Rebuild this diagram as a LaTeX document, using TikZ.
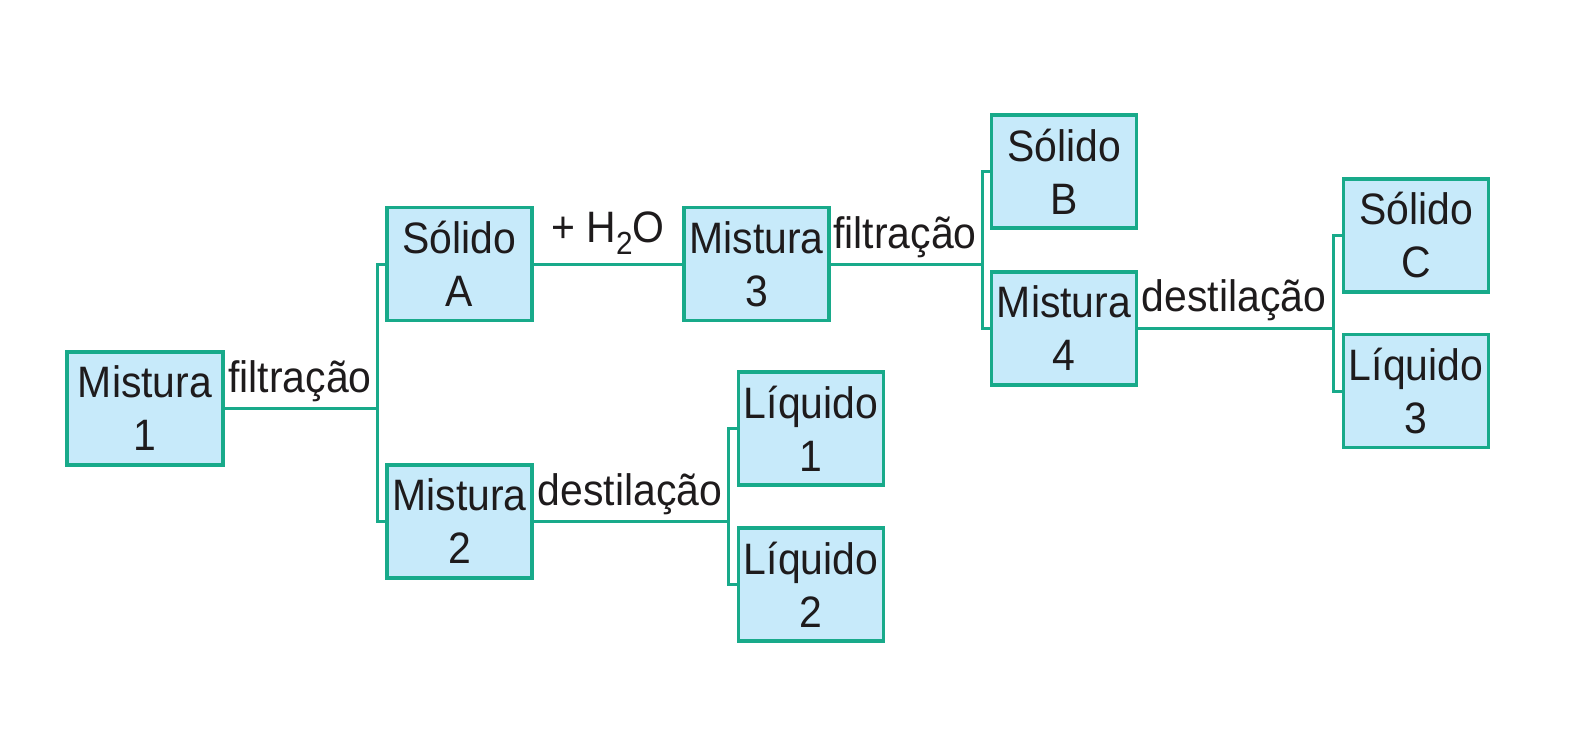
\documentclass[tikz,border=0pt]{standalone}
\usepackage{fontspec}
\setmainfont{Liberation Sans}[FakeStretch=0.93]
\definecolor{teal}{RGB}{24,170,138}
\definecolor{boxfill}{RGB}{199,234,250}
\definecolor{ink}{RGB}{30,27,28}
\newcommand{\lowsub}[1]{\raisebox{-0.28em}{\fontsize{16}{16}\selectfont #1}}
\begin{document}
\begin{tikzpicture}[x=0.5pt,y=-0.5pt,
  box/.style={draw=teal,fill=boxfill,line width=1.8pt,minimum width=72.5pt,minimum height=56.5pt,
    inner sep=0pt,align=center,text=ink,font=\fontsize{22}{26.5}\selectfont},
  lbl/.style={anchor=base,inner sep=0pt,text=ink,font=\fontsize{22}{26.5}\selectfont},
  conn/.style={draw=teal,line width=1.5pt}]
\useasboundingbox (0,0) rectangle (1596,735);
\node[box,minimum width=78pt] (m1) at (145,408.5) {Mistura\\1};
\node[box] (sa) at (459.5,264) {Sólido\\A};
\node[box] (m2) at (459.5,521.5) {Mistura\\2};
\node[box] (m3) at (756.5,264) {Mistura\\3};
\node[box] (l1) at (811,428.5) {Líquido\\1};
\node[box] (l2) at (811,584.5) {Líquido\\2};
\node[box] (sb) at (1064,171.5) {Sólido\\B};
\node[box] (m4) at (1064,328.5) {Mistura\\4};
\node[box] (sc) at (1416,235.5) {Sólido\\C};
\node[box] (l3) at (1416,391) {Líquido\\3};
\coordinate (b1) at (377,407);
\coordinate (b2) at (728,521);
\coordinate (b3) at (982,263);
\coordinate (b4) at (1333,327);
% connectors
\draw[conn] (m1.east) -- (m1.east -| b1);
\draw[conn] (sa.west) -| (b1) |- (m2.west);
\draw[conn] (sa.east) -- (m3.west);
\draw[conn] (m2.east) -- (m2.east -| b2);
\draw[conn] (l1.west) -| (b2) |- (l2.west);
\draw[conn] (m3.east) -- (m3.east -| b3);
\draw[conn] (sb.west) -| (b3) |- (m4.west);
\draw[conn] (m4.east) -- (m4.east -| b4);
\draw[conn] (sc.west) -| (b4) |- (l3.west);
% labels
\node[lbl] (t1) at (300,392) {filtração};
\node[lbl] (t2) at (608,242) {+ H\lowsub{2}O};
\node[lbl] (t3) at (630,505) {destilação};
\node[lbl] (t4) at (905,248) {filtração};
\node[lbl] (t5) at (1234,311) {destilação};
\end{tikzpicture}
\end{document}
